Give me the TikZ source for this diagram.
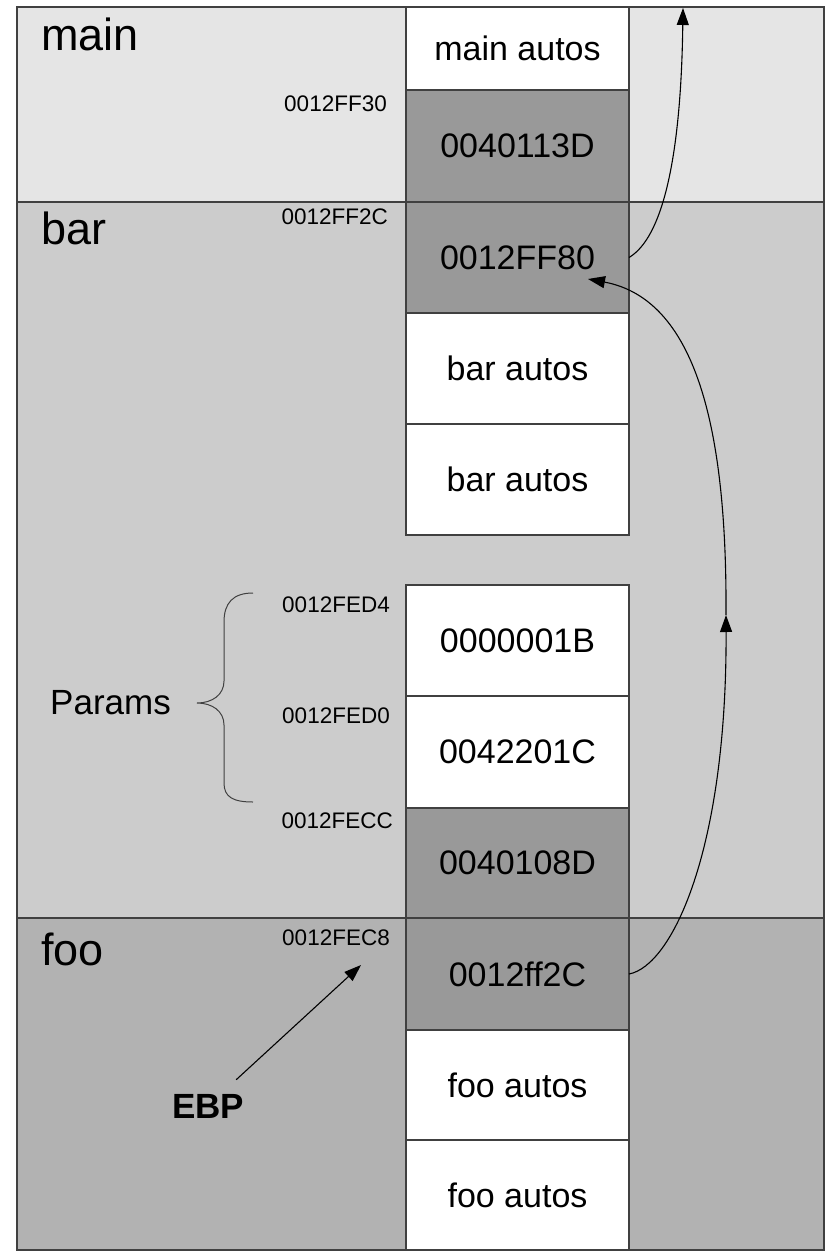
\documentclass[tikz,border=0pt]{standalone}
\usepackage{fontspec}
\setmainfont{Liberation Sans}
\usetikzlibrary{arrows.meta,calc}

\definecolor{mainbg}{gray}{0.90}
\definecolor{barbg}{gray}{0.80}
\definecolor{foobg}{gray}{0.70}
\definecolor{slotgray}{gray}{0.60}
\definecolor{edgegray}{gray}{0.25}

\begin{document}
\begin{tikzpicture}[x=1pt,y=-1pt,
  frame/.style={draw=edgegray, line width=1.3pt, inner sep=0pt, outer sep=0pt,
    anchor=north west, minimum width=807pt},
  framelabel/.style={inner sep=0pt, anchor=base west, font=\fontsize{45}{50}\selectfont},
  slot/.style={draw=edgegray, line width=1.1pt, inner sep=0pt, outer sep=0pt,
    anchor=north west, minimum width=223pt, font=\fontsize{34}{40}\selectfont},
  slotlight/.style={slot, fill=white},
  slotdark/.style={slot, fill=slotgray},
  addr/.style={inner sep=0pt, anchor=base east, font=\fontsize{22.5}{26}\selectfont},
  link/.style={line width=1.1pt, -{Triangle[length=17pt,width=12pt]}},
]
\useasboundingbox (0,0) rectangle (827,1252);

% stack frames
\node[frame, fill=mainbg, minimum height=195pt] (fmain) at (17,7) {};
\node[frame, fill=barbg,  minimum height=716pt] (fbar)  at (17,202) {};
\node[frame, fill=foobg,  minimum height=332pt] (ffoo)  at (17,918) {};

\node[framelabel] (lmain) at (41,51)  {main};
\node[framelabel] (lbar)  at (41,244) {bar};
\node[framelabel] (lfoo)  at (41,965) {foo};

% stack slots
\node[slotlight, minimum height=83pt]  (mautos) at (406,7)    {main autos};
\node[slotdark,  minimum height=112pt] (mret)   at (406,90)   {0040113D};
\node[slotdark,  minimum height=111pt] (bebp)   at (406,202)  {0012FF80};
\node[slotlight, minimum height=111pt] (bauto1) at (406,313)  {bar autos};
\node[slotlight, minimum height=111pt] (bauto2) at (406,424)  {bar autos};
\node[slotlight, minimum height=111pt] (parb)   at (406,585)  {0000001B};
\node[slotlight, minimum height=112pt] (para)   at (406,696)  {0042201C};
\node[slotdark,  minimum height=110pt] (bret)   at (406,808)  {0040108D};
\node[slotdark,  minimum height=112pt] (febp)   at (406,918)  {0012ff2C};
\node[slotlight, minimum height=110pt] (fauto1) at (406,1030) {foo autos};
\node[slotlight, minimum height=110pt] (fauto2) at (406,1140) {foo autos};

% addresses
\node[addr] (a30) at (387,112) {0012FF30};
\node[addr] (a2c) at (388,224) {0012FF2C};
\node[addr] (ad4) at (390,612) {0012FED4};
\node[addr] (ad0) at (390,723) {0012FED0};
\node[addr] (acc) at (393,828) {0012FECC};
\node[addr] (ac8) at (390,945) {0012FEC8};

% parameter brace
\draw[line width=1pt, edgegray] (253,593) .. controls (233,593) and (224,603) .. (224,622)
  -- (224,681) .. controls (224,695) and (212,703) .. (197,703)
  .. controls (212,703) and (224,711) .. (224,725)
  -- (224,783) .. controls (224,797) and (233,802) .. (253,802);
\node[inner sep=0pt, anchor=west, font=\fontsize{35}{40}\selectfont] (params) at (50,703) {Params};

% EBP pointer
\node[inner sep=0pt, anchor=base west, font=\bfseries\fontsize{35}{40}\selectfont] (ebp) at (172,1118) {EBP};
\coordinate (ebptip) at (361,965);
\draw[link] ([shift={(28,-14)}]ebp.north) -- (ebptip);

% saved frame pointer chain
\coordinate (chainmid) at (726,615);
\coordinate (ff80tip) at (588,279);
\coordinate (mainup) at (683,8);
\draw[link] (febp.east) .. controls (672,966) and (727,850) .. (chainmid);
\draw[link] (chainmid) .. controls (727,440) and (700,300) .. (ff80tip);
\draw[link] (bebp.east) .. controls (662,238) and (681,160) .. (mainup);
\end{tikzpicture}
\end{document}
